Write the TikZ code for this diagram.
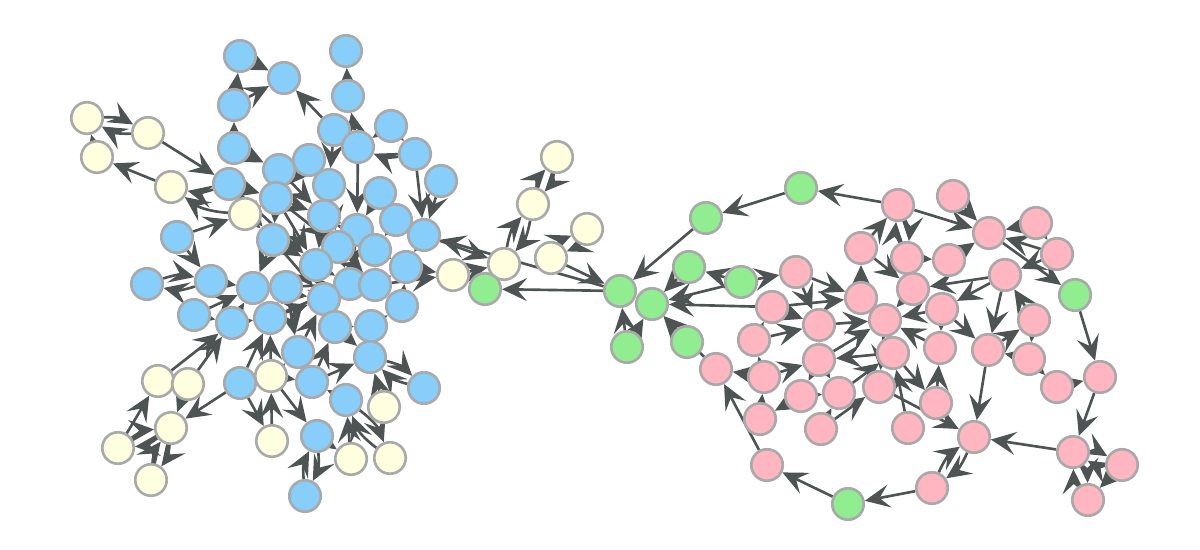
\documentclass[tikz,border=0pt]{standalone}
\usetikzlibrary{arrows.meta}
\definecolor{nblue}{HTML}{87CEFA}
\definecolor{nyel}{HTML}{FFFFE0}
\definecolor{ngreen}{HTML}{90EE90}
\definecolor{npink}{HTML}{FFB6C1}
\definecolor{nborder}{HTML}{A9A9A9}
\definecolor{edgec}{HTML}{4E5454}
\pgfdeclarelayer{bg}
\pgfsetlayers{bg,main}
\tikzset{
  nd/.style={circle, minimum size=0.63cm, inner sep=0pt, draw=nborder, line width=1.5pt},
  bl/.style={nd, fill=nblue},
  ye/.style={nd, fill=nyel},
  gr/.style={nd, fill=ngreen},
  pk/.style={nd, fill=npink},
  ed/.style={draw=edgec, line width=1.5pt, -{Stealth[length=5mm,width=4.6mm,inset=2mm]}},
}
\begin{document}
\begin{tikzpicture}[x=0.02cm, y=-0.02cm]
\useasboundingbox (0,0) rectangle (1200,550);
\foreach \n/\x/\y in {b1/240/56,b2/284/78,b3/346/51,b4/234/105,b5/348/96,b6/234/148,b7/334/130,b8/391/126,b9/358/147,b10/415/154,b11/309/160,b12/279/170,b13/229/184,b14/441/181,b15/329/185,b16/276/198,b17/380/193,b18/324/216,b19/396/220,b20/357/230,b21/424/235,b22/273/240,b23/177/237,b24/338/247,b25/375/250,b26/316/265,b27/406/267,b28/147/284,b29/211/281,b30/253/288,b31/286/287,b32/350/284,b33/375/285,b34/324/299,b35/402/306,b36/194/315,b37/232/323,b38/270/318,b39/335/327,b40/371/326,b41/298/352,b42/370/357,b43/240/383,b44/312/382,b45/424/388,b46/346/400,b47/317/436,b48/305/496}
  \node[bl] (\n) at (\x,\y) {};
\foreach \n/\x/\y in {y1/87/118,y2/148/133,y3/97/157,y4/171/187,y5/245/214,y6/453/275,y7/158/381,y8/188/384,y9/271/376,y10/384/407,y11/171/428,y12/118/448,y13/272/441,y14/351/459,y15/390/458,y16/151/480,y17/557/157,y18/533/204,y19/587/229,y20/504/264,y21/551/258}
  \node[ye] (\n) at (\x,\y) {};
\foreach \n/\x/\y in {g1/485/289,g2/620/291,g3/652/304,g4/627/347,g5/687/342,g6/706/218,g7/801/188,g8/689/267,g9/741/282,g10/1075/295,g11/848/504}
  \node[gr] (\n) at (\x,\y) {};
\foreach \n/\x/\y in {p1/898/205,p2/953/196,p3/989/233,p4/1036/223,p5/1057/254,p6/861/248,p7/907/258,p8/949/260,p9/1005/275,p10/796/272,p11/913/289,p12/861/298,p13/772/307,p14/942/309,p15/885/320,p16/819/325,p17/1034/320,p18/754/340,p19/940/348,p20/988/350,p21/819/360,p22/893/353,p23/1029/359,p24/716/369,p25/764/377,p26/1100/377,p27/1057/387,p28/801/396,p29/839/393,p30/879/387,p31/936/403,p32/760/419,p33/821/429,p34/908/428,p35/974/437,p36/1073/452,p37/1122/465,p38/767/465,p39/932/488,p40/1088/500}
  \node[pk] (\n) at (\x,\y) {};
\begin{pgfonlayer}{bg}
\foreach \a/\b in {b1/b2,b4/b1,b4/b2,b6/b4,b5/b3,b7/b2,b9/b5,b8/b9,b7/b15,b9/b20,b10/b21,b14/b21,b6/b12,b13/b16,b16/b18,b15/b18,b17/b19,b18/b20,b19/b25,b20/b24,b22/b26,b24/b32,b25/b33,b26/b31,b23/b29,b29/b30,b30/b31,b31/b32,b32/b33,b33/b27,b34/b39,b36/b30,b37/b30,b38/b31,b38/b34,b39/b40,b40/b35,b41/b34,b42/b40,b43/b38,b44/b39,b44/b42,b46/b44,b12/b22,b13/b22,b16/b26,b15/b24,b21/b27,b19/b21,b11/b16,b22/b30,b18/b26,b24/b26,b20/b25,b41/b44,b34/b32,b26/b34,b37/b38,b36/b37,b11/b15,b12/b11,b17/b20,b8/b10,b35/b27,b26/b32,b25/b27,b31/b41,b39/b42,b16/b24,b22/b34,b13/b26,b12/b18,b30/b34,b38/b32,b20/b32,b24/b33,b18/b25}
  \draw[ed] (\a) -- (\b);
\foreach \a/\b in {y3/y1,y2/b13,y4/y3,b23/y5,y5/b16,y7/b37,y8/b37,b43/y11,y8/y11,y12/y7,y9/b38,y9/b47,b43/y13,y13/y9,y14/b46,y10/b42,b47/y14,b21/y20,y6/y20,b27/y6,b33/y6,g2/g1,g2/b21,y21/g2,y9/b41,y9/b44,y5/b22}
  \draw[ed] (\a) -- (\b);
\foreach \a/\b in {g6/g2,g7/g6,p1/g7,g4/g2,g4/g3,g5/g3,g8/g3,g9/g8,p13/g3,g9/p10,p24/g3,g9/g3}
  \draw[ed] (\a) -- (\b);
\foreach \a/\b in {p1/p3,p2/p3,p6/p1,p4/p3,p3/g10,p5/p9,p9/p11,p9/p14,p9/p20,p8/p3,p7/p8,p17/p9,p14/p20,p10/p12,p12/p6,p6/p11,p13/p16,p10/p16,p18/p16,p25/p21,p25/p24,p38/p24,p28/p32,p33/p30,p30/p35,p20/p35,p23/p20,p27/p26,g10/p26,p26/p36,p36/p35,p39/g11,g11/p38,p11/p15,p12/p15,p14/p15,p22/p15,p19/p15,p16/p21,p21/p28,p29/p22,p15/p30,p17/p23,p23/p27,p22/p31,p22/p21,p34/p22,p33/p29,p20/p17,p25/p18,p4/p5,p5/p3,p13/p12,p21/p29,p16/p15,p28/p29,p32/p25,p18/p13,p14/p19,p37/p40,p21/p15,p31/p19}
  \draw[ed] (\a) -- (\b);
\foreach \a/\b in {y1/y2,y2/y1,y11/y12,y12/y11,y11/y16,y16/y11,b28/b29,b29/b28,b47/b48,b48/b47,b42/b45,b45/b42,b46/y15,y15/b46,y17/y18,y18/y17,y18/y20,y20/y18,y19/y21,y21/y19,p1/p7,p7/p1,p36/p37,p37/p36,p35/p39,p39/p35,p36/p40,p40/p36,b10/b9,b13/y4,y5/y4}
  \draw[ed] (\a) to[bend left=16] (\b);
\end{pgfonlayer}
\end{tikzpicture}
\end{document}
